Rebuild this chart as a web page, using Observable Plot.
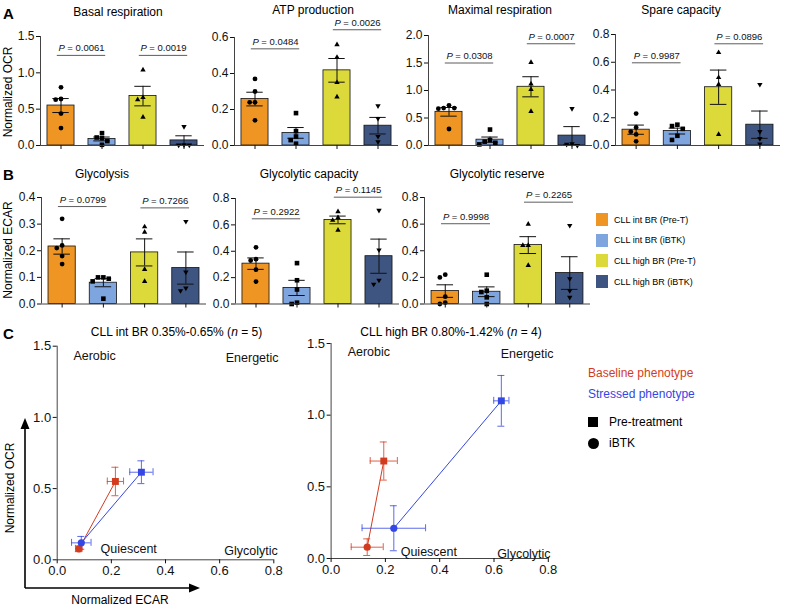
<!DOCTYPE html>
<html><head><meta charset="utf-8">
<script src="https://cdn.jsdelivr.net/npm/d3@7"></script>
<script src="https://cdn.jsdelivr.net/npm/@observablehq/plot@0.6"></script>
<style>
body{margin:0;background:#fff;}
#fig{position:relative;width:785px;height:611px;font-family:"Liberation Sans",Arial,Helvetica,sans-serif;overflow:hidden;background:#fff;}
#fig svg{position:absolute;left:0;top:0;}
.lbl{position:absolute;white-space:nowrap;color:#000;line-height:1;}
</style></head><body><div id="fig"></div>
<script>
// ---------- DATA ----------
const groups = ["CLL int BR (Pre-T)", "CLL int BR (iBTK)", "CLL high BR (Pre-T)", "CLL high BR (iBTK)"];
const groupColors = ["#EE9524", "#7FA5DF", "#DCD93A", "#3E5581"];

// Panel A – normalized OCR per patient (int BR n=5, high BR n=4)
const basalRespiration = [[0.80, 0.64, 0.63, 0.44, 0.24], [0.17, 0.11, 0.10, 0.06, 0.01], [1.04, 0.66, 0.63, 0.39], [0.26, 0.01, 0.005, 0.005]];
const atpProduction    = [[0.37, 0.30, 0.24, 0.24, 0.14], [0.18, 0.08, 0.05, 0.03, 0.01], [0.56, 0.49, 0.35, 0.27], [0.22, 0.15, 0.05, 0.02]];
const maximalRespiration = [[0.73, 0.68, 0.68, 0.67, 0.30], [0.29, 0.10, 0.07, 0.05, 0.02], [1.51, 1.12, 1.02, 0.62], [0.67, 0.03, 0.02, 0.0]];
const spareCapacity    = [[0.23, 0.13, 0.10, 0.08, 0.03], [0.15, 0.14, 0.12, 0.07, 0.04], [0.67, 0.49, 0.44, 0.08], [0.44, 0.10, 0.05, 0.01]];
// Panel B – normalized ECAR
const glycolysis       = [[0.32, 0.22, 0.21, 0.18, 0.15], [0.10, 0.10, 0.095, 0.085, 0.02], [0.29, 0.27, 0.13, 0.085], [0.31, 0.12, 0.06, 0.05]];
const glycolyticCapacity = [[0.43, 0.34, 0.33, 0.26, 0.17], [0.31, 0.18, 0.11, 0.01, 0.0], [0.70, 0.655, 0.635, 0.56], [0.71, 0.41, 0.18, 0.15]];
const glycolyticReserve  = [[0.22, 0.20, 0.055, 0.01, 0.0], [0.22, 0.10, 0.09, 0.05, 0.0], [0.60, 0.44, 0.44, 0.29], [0.59, 0.19, 0.10, 0.05]];

// P values (pair of groups, bracket height in data units)
const pBasal   = [{a: 0, b: 1, y: 1.24, p: "0.0061"}, {a: 2, b: 3, y: 1.24, p: "0.0019"}];
const pATP     = [{a: 0, b: 1, y: 0.537, p: "0.0484"}, {a: 2, b: 3, y: 0.643, p: "0.0026"}];
const pMaximal = [{a: 0, b: 1, y: 1.50, p: "0.0308"}, {a: 2, b: 3, y: 1.85, p: "0.0007"}];
const pSpare   = [{a: 0, b: 1, y: 0.596, p: "0.9987"}, {a: 2, b: 3, y: 0.733, p: "0.0896"}];
const pGlyc    = [{a: 0, b: 1, y: 0.366, p: "0.0799"}, {a: 2, b: 3, y: 0.361, p: "0.7266"}];
const pGlycCap = [{a: 0, b: 1, y: 0.646, p: "0.2922"}, {a: 2, b: 3, y: 0.81, p: "0.1145"}];
const pGlycRes = [{a: 0, b: 1, y: 0.603, p: "0.9998"}, {a: 2, b: 3, y: 0.765, p: "0.2265"}];

// Panel C – energy map (mean ± SEM)
const phenotype = ["Baseline", "Baseline", "Stressed", "Stressed"];
const treatment = ["Pre-treatment", "iBTK", "Pre-treatment", "iBTK"];
const intEcar    = [0.215, 0.080, 0.311, 0.089];
const intOcr     = [0.550, 0.077, 0.615, 0.119];
const intEcarErr = [0.030, 0.012, 0.043, 0.036];
const intOcrErr  = [0.100, 0.020, 0.080, 0.045];
const highEcar    = [0.194, 0.133, 0.627, 0.231];
const highOcr     = [0.680, 0.079, 1.100, 0.211];
const highEcarErr = [0.050, 0.059, 0.028, 0.117];
const highOcrErr  = [0.133, 0.058, 0.177, 0.157];
const quadrants = ["Aerobic", "Energetic", "Quiescent", "Glycolytic"];
const intQuadX = [0.138, 0.72, 0.264, 0.716], intQuadY = [1.43, 1.415, 0.077, 0.065];
const highQuadX = [0.139, 0.722, 0.36, 0.71], highQuadY = [1.44, 1.43, 0.044, 0.033];

// ---------- RENDER ----------
const W = 785, H = 611;
const FONT = "'Liberation Sans', Arial, Helvetica, sans-serif";
const fig = document.getElementById("fig");
const phColor = {Baseline: "#D33B1F", Stressed: "#3446E6"};
const triangleDown = {draw(ctx, size) {
  const y = -Math.sqrt(size / (Math.sqrt(3) * 3));
  ctx.moveTo(0, -y * 2); ctx.lineTo(-Math.sqrt(3) * y, y); ctx.lineTo(Math.sqrt(3) * y, y); ctx.closePath();
}};
const groupSymbols = ["circle", "square", "triangle", triangleDown];
const symbolR = [2.4, 2.6, 2.0, 2.0];

function italicP(svg) {
  d3.select(svg).selectAll(".pval text").each(function() {
    const t = this.textContent.replace(/^P/, "");
    this.textContent = "";
    d3.select(this).append("tspan").attr("font-style", "italic").text("P");
    d3.select(this).append("tspan").text(t);
  });
}

function addLabel(html, x, y, o = {}) {
  const d = document.createElement("div");
  d.className = "lbl";
  d.innerHTML = html;
  d.style.left = x + "px"; d.style.top = y + "px";
  d.style.fontSize = (o.size || 12) + "px";
  if (o.bold) d.style.fontWeight = "bold";
  if (o.color) d.style.color = o.color;
  const tx = o.anchor === "start" ? "0" : o.anchor === "end" ? "-100%" : "-50%";
  d.style.transform = `translate(${tx},-50%)` + (o.rotate ? ` rotate(${o.rotate}deg)` : "");
  fig.appendChild(d);
}

function barPanel({data, yMax, yTicks, xLeft, xRight, yTop, yZero, brackets}) {
  const stats = data.map((pts, g) => ({g, mean: d3.mean(pts), sem: d3.deviation(pts) / Math.sqrt(pts.length)}));
  const pxX = (xRight - xLeft) / 4, pxY = (yZero - yTop) / yMax;
  const dots = [];
  data.forEach((pts, g) => {
    const placed = [];
    [...pts].sort((a, b) => b - a).forEach(v => {
      const cands = [0, -0.13, 0.13, -0.26, 0.26];
      const off = cands.find(o => placed.every(p => Math.abs(p.v - v) * pxY >= 4.5 || Math.abs(p.o - o) * pxX >= 5)) ?? 0;
      placed.push({v, o: off});
      dots.push({g, v, x: g + off});
    });
  });
  const cap = 0.2;
  const svg = Plot.plot({
    width: W, height: H,
    marginLeft: xLeft, marginRight: W - xRight, marginTop: yTop, marginBottom: H - yZero,
    x: {domain: [-0.5, 3.5], axis: null},
    y: {domain: [0, yMax], axis: null},
    color: {type: "identity"},
    style: {background: "transparent", fontFamily: FONT, color: "#111"},
    marks: [
      Plot.rect(stats, {x1: d => d.g - 0.33, x2: d => d.g + 0.33, y1: 0, y2: "mean", fill: d => groupColors[d.g], stroke: "#111", strokeWidth: 0.8}),
      Plot.ruleX(stats, {x: "g", y1: d => Math.max(0, d.mean - d.sem), y2: d => d.mean + d.sem, stroke: "#111", strokeWidth: 1}),
      Plot.ruleY(stats, {y: d => d.mean + d.sem, x1: d => d.g - cap, x2: d => d.g + cap, stroke: "#111", strokeWidth: 1}),
      Plot.ruleY(stats, {y: d => Math.max(0, d.mean - d.sem), x1: d => d.g - cap, x2: d => d.g + cap, stroke: "#111", strokeWidth: 1}),
      ...[0, 1, 2, 3].map(g => Plot.dot(dots.filter(d => d.g === g), {x: "x", y: "v", symbol: groupSymbols[g], fill: "#000", r: symbolR[g]})),
      Plot.ruleX([-0.5], {stroke: "#444", strokeWidth: 1}),
      Plot.ruleY([0], {stroke: "#444", strokeWidth: 1}),
      Plot.axisY({ticks: yTicks, tickFormat: d3.format(".1f"), tickSize: 4, tickPadding: 2, fontSize: 12, label: null}),
      Plot.axisX({ticks: [0, 1, 2, 3], tickFormat: () => "", tickSize: 4, label: null}),
      Plot.ruleY(brackets, {y: "y", x1: d => (d.a + d.b) / 2 - 0.59, x2: d => (d.a + d.b) / 2 + 0.59, stroke: "#333", strokeWidth: 0.8}),
      Plot.text(brackets, {x: d => (d.a + d.b) / 2, y: "y", text: d => "P = " + d.p, dy: -7, fontSize: 9.5, className: "pval"})
    ]
  });
  italicP(svg);
  fig.appendChild(svg);
}

function scatterPanel({ecar, ocr, ecarErr, ocrErr, qx, qy, xLeft, xRight, yTop, yZero}) {
  const pts = ecar.map((x, i) => ({x, y: ocr[i], ex: ecarErr[i], ey: ocrErr[i], ph: phenotype[i], tr: treatment[i]}));
  const quads = quadrants.map((label, i) => ({label, x: qx[i], y: qy[i]}));
  const kx = 0.8 / (xRight - xLeft), ky = 1.5 / (yZero - yTop), cap = 3.5;
  const col = d => phColor[d.ph];
  const eb = {stroke: col, strokeWidth: 1, strokeOpacity: 0.8};
  const svg = Plot.plot({
    width: W, height: H,
    marginLeft: xLeft, marginRight: W - xRight, marginTop: yTop, marginBottom: H - yZero,
    x: {domain: [0, 0.8], axis: null},
    y: {domain: [0, 1.5], axis: null},
    color: {type: "identity"},
    style: {background: "transparent", fontFamily: FONT, color: "#111"},
    marks: [
      Plot.ruleX([0], {stroke: "#444"}),
      Plot.ruleY([0], {stroke: "#444"}),
      Plot.axisX({ticks: [0, 0.2, 0.4, 0.6, 0.8], tickFormat: d3.format(".1f"), tickSize: 4, tickPadding: 2, fontSize: 13, label: null}),
      Plot.axisY({ticks: [0, 0.5, 1, 1.5], tickFormat: d3.format(".1f"), tickSize: 4, tickPadding: 2, fontSize: 13, label: null}),
      Plot.text(quads, {x: "x", y: "y", text: "label", fontSize: 12.5, fill: "#111"}),
      Plot.line(pts, {x: "x", y: "y", z: "ph", stroke: col, strokeWidth: 1}),
      Plot.ruleX(pts, {x: "x", y1: d => d.y - d.ey, y2: d => d.y + d.ey, ...eb}),
      Plot.ruleY(pts, {y: "y", x1: d => d.x - d.ex, x2: d => d.x + d.ex, ...eb}),
      Plot.ruleY(pts, {y: d => d.y + d.ey, x1: d => d.x - cap * kx, x2: d => d.x + cap * kx, ...eb}),
      Plot.ruleY(pts, {y: d => d.y - d.ey, x1: d => d.x - cap * kx, x2: d => d.x + cap * kx, ...eb}),
      Plot.ruleX(pts, {x: d => d.x + d.ex, y1: d => d.y - cap * ky, y2: d => d.y + cap * ky, ...eb}),
      Plot.ruleX(pts, {x: d => d.x - d.ex, y1: d => d.y - cap * ky, y2: d => d.y + cap * ky, ...eb}),
      Plot.dot(pts.filter(d => d.tr === "Pre-treatment"), {x: "x", y: "y", symbol: "square", fill: col, r: 3.9}),
      Plot.dot(pts.filter(d => d.tr === "iBTK"), {x: "x", y: "y", symbol: "circle", fill: col, r: 3.6})
    ]
  });
  fig.appendChild(svg);
}

// Panel A
barPanel({data: basalRespiration, yMax: 1.5, yTicks: [0, 0.5, 1, 1.5], xLeft: 40, xRight: 204, yTop: 36, yZero: 145, brackets: pBasal});
barPanel({data: atpProduction, yMax: 0.6, yTicks: [0, 0.2, 0.4, 0.6], xLeft: 234, xRight: 398, yTop: 37, yZero: 145, brackets: pATP});
barPanel({data: maximalRespiration, yMax: 2.0, yTicks: [0, 0.5, 1, 1.5, 2], xLeft: 428, xRight: 592, yTop: 35, yZero: 145, brackets: pMaximal});
barPanel({data: spareCapacity, yMax: 0.8, yTicks: [0, 0.2, 0.4, 0.6, 0.8], xLeft: 615, xRight: 780, yTop: 34, yZero: 145, brackets: pSpare});
// Panel B
barPanel({data: glycolysis, yMax: 0.4, yTicks: [0, 0.1, 0.2, 0.3, 0.4], xLeft: 41, xRight: 206, yTop: 197, yZero: 303.5, brackets: pGlyc});
barPanel({data: glycolyticCapacity, yMax: 0.8, yTicks: [0, 0.2, 0.4, 0.6, 0.8], xLeft: 235, xRight: 399, yTop: 198, yZero: 303.5, brackets: pGlycCap});
barPanel({data: glycolyticReserve, yMax: 0.8, yTicks: [0, 0.2, 0.4, 0.6, 0.8], xLeft: 424, xRight: 590, yTop: 197, yZero: 303.5, brackets: pGlycRes});
// Panel C
scatterPanel({ecar: intEcar, ocr: intOcr, ecarErr: intEcarErr, ocrErr: intOcrErr, qx: intQuadX, qy: intQuadY, xLeft: 56.7, xRight: 273.3, yTop: 345.7, yZero: 559.3});
scatterPanel({ecar: highEcar, ocr: highOcr, ecarErr: highEcarErr, ocrErr: highOcrErr, qx: highQuadX, qy: highQuadY, xLeft: 330.6, xRight: 547.8, yTop: 343, yZero: 558});

// big axis arrows (decorative)
const ns = "http://www.w3.org/2000/svg";
const arr = document.createElementNS(ns, "svg");
arr.setAttribute("width", W); arr.setAttribute("height", H);
arr.innerHTML = `<g stroke="#000" stroke-width="1.6" fill="none"><path d="M25,588V428"/><path d="M25,588H191"/></g>
<g fill="#000"><path d="M25,418L20.5,429L29.5,429Z"/><path d="M200,588L189,583.5L189,592.5Z"/></g>`;
fig.appendChild(arr);

// text
addLabel("A", 3, 13, {size: 15, bold: true, anchor: "start"});
addLabel("B", 3, 174, {size: 15, bold: true, anchor: "start"});
addLabel("C", 3, 333, {size: 15, bold: true, anchor: "start"});
addLabel("Basal respiration", 118, 12);
addLabel("ATP production", 313, 10);
addLabel("Maximal respiration", 500, 10);
addLabel("Spare capacity", 681, 10);
addLabel("Glycolysis", 102, 174);
addLabel("Glycolytic capacity", 309, 174);
addLabel("Glycolytic reserve", 497, 174);
addLabel("Normalized OCR", 8, 92, {rotate: -90});
addLabel("Normalized ECAR", 8, 250, {rotate: -90});
addLabel("CLL int BR 0.35%-0.65% (<i>n</i> = 5)", 176.5, 332);
addLabel("CLL high BR 0.80%-1.42% (<i>n</i> = 4)", 451, 332);
addLabel("Normalized OCR", 10, 488, {rotate: -90});
addLabel("Normalized ECAR", 120, 600);

// legend B
groups.forEach((g, i) => {
  const y = 219.5 + i * 20.7;
  const sw = document.createElement("div");
  sw.style.cssText = `position:absolute;left:596px;top:${y - 6.5}px;width:12px;height:13px;background:${groupColors[i]};`;
  fig.appendChild(sw);
  addLabel(g, 614, y, {size: 9, anchor: "start"});
});
// legend C
addLabel("Baseline phenotype", 588, 373, {anchor: "start", color: phColor.Baseline});
addLabel("Stressed phenotype", 588, 394, {anchor: "start", color: phColor.Stressed});
const sq = document.createElement("div");
sq.style.cssText = "position:absolute;left:588px;top:417px;width:10px;height:10px;background:#000;";
fig.appendChild(sq);
const ci = document.createElement("div");
ci.style.cssText = "position:absolute;left:587.5px;top:437.5px;width:11px;height:11px;border-radius:50%;background:#000;";
fig.appendChild(ci);
addLabel("Pre-treatment", 609, 422, {anchor: "start"});
addLabel("iBTK", 609, 443, {anchor: "start"});
</script></body></html>
